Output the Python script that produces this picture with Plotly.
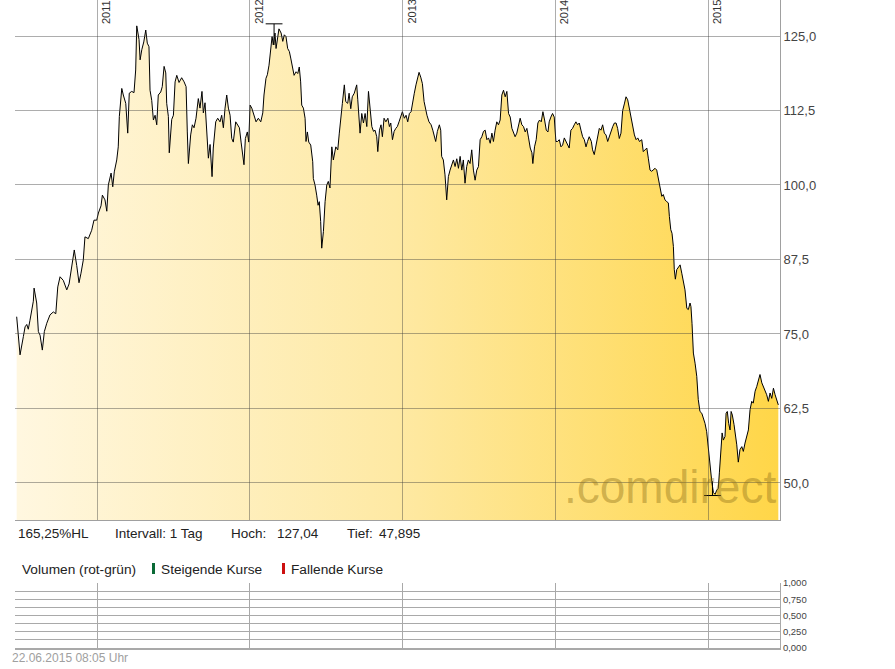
import numpy as np
import plotly.graph_objects as go

# ---- price data (decimal year, close) ----
t_2010 = [2010.474, 2010.485, 2010.496, 2010.518, 2010.529, 2010.540, 2010.550, 2010.561, 2010.572, 2010.583,
          2010.588, 2010.605, 2010.616, 2010.627, 2010.642, 2010.655, 2010.671, 2010.692, 2010.714, 2010.730,
          2010.743, 2010.758, 2010.779, 2010.802, 2010.817, 2010.834, 2010.851, 2010.867, 2010.882, 2010.895,
          2010.910, 2010.921, 2010.943, 2010.965, 2010.980, 2010.998]
p_2010 = [77.9, 75.0, 71.5, 74.6, 76.2, 76.6, 75.8, 77.3, 79.0, 80.5,
          82.7, 80.2, 75.4, 74.8, 72.3, 75.4, 76.8, 78.2, 78.7, 78.4,
          82.9, 84.6, 84.0, 82.4, 83.4, 86.5, 89.1, 86.5, 83.6, 85.2,
          87.4, 91.3, 91.0, 92.4, 94.1, 94.1]

t_2011 = [2011.009, 2011.026, 2011.035, 2011.052, 2011.064, 2011.074, 2011.092, 2011.103, 2011.113, 2011.129,
          2011.139, 2011.146, 2011.162, 2011.172, 2011.188, 2011.201, 2011.211, 2011.227, 2011.242, 2011.253,
          2011.260, 2011.275, 2011.282, 2011.293, 2011.306, 2011.319, 2011.329, 2011.340, 2011.347, 2011.358,
          2011.369, 2011.380, 2011.391, 2011.401, 2011.417, 2011.427, 2011.439, 2011.450, 2011.456, 2011.467,
          2011.473, 2011.489, 2011.500, 2011.511, 2011.522, 2011.537, 2011.554, 2011.570, 2011.583, 2011.591,
          2011.598, 2011.613, 2011.624, 2011.635, 2011.648, 2011.663, 2011.674, 2011.687, 2011.696, 2011.707,
          2011.718, 2011.729, 2011.740, 2011.753, 2011.761, 2011.777, 2011.790, 2011.805, 2011.816, 2011.827,
          2011.838, 2011.849, 2011.860, 2011.871, 2011.882, 2011.892, 2011.908, 2011.921, 2011.932, 2011.943,
          2011.954, 2011.962, 2011.971, 2011.984, 2011.993]
p_2011 = [95.3, 96.5, 98.3, 97.5, 95.6, 100.0, 102.0, 99.7, 102.2, 104.2,
          106.4, 111.5, 116.2, 115.1, 113.7, 108.7, 115.4, 115.7, 115.5, 119.3,
          126.7, 124.4, 121.0, 122.7, 124.0, 126.0, 123.8, 123.2, 115.9, 114.2,
          110.9, 111.7, 110.1, 115.1, 115.6, 116.5, 119.9, 118.8, 113.7, 111.5,
          105.4, 111.0, 111.7, 117.3, 118.4, 117.2, 118.0, 117.3, 116.5, 108.9,
          103.6, 108.4, 110.1, 109.6, 111.2, 114.5, 112.9, 115.7, 112.1, 113.8,
          109.6, 104.5, 106.8, 101.4, 106.2, 110.6, 111.2, 110.6, 111.7, 109.6,
          112.9, 115.1, 112.9, 111.7, 107.8, 107.2, 110.6, 110.1, 109.6, 107.2,
          104.5, 103.4, 107.8, 108.9, 107.2]

t_2012 = [2012.002, 2012.013, 2012.028, 2012.041, 2012.056, 2012.072, 2012.085, 2012.093, 2012.106, 2012.115,
          2012.126, 2012.137, 2012.146, 2012.154, 2012.165, 2012.172, 2012.180, 2012.191, 2012.205, 2012.216,
          2012.226, 2012.237, 2012.248, 2012.259, 2012.268, 2012.279, 2012.290, 2012.303, 2012.314, 2012.324,
          2012.333, 2012.340, 2012.351, 2012.362, 2012.368, 2012.377, 2012.386, 2012.399, 2012.412, 2012.416,
          2012.427, 2012.438, 2012.447, 2012.455, 2012.464, 2012.471, 2012.482, 2012.493, 2012.504, 2012.514,
          2012.525,
          2012.537, 2012.547, 2012.563, 2012.576, 2012.586, 2012.597, 2012.606, 2012.619, 2012.628, 2012.641,
          2012.650, 2012.661, 2012.671, 2012.684, 2012.700, 2012.707, 2012.715, 2012.722, 2012.733, 2012.744,
          2012.755, 2012.766, 2012.777, 2012.788, 2012.799, 2012.810, 2012.820, 2012.831, 2012.838, 2012.849,
          2012.859, 2012.868, 2012.879, 2012.891, 2012.904, 2012.914, 2012.923, 2012.934, 2012.945, 2012.956,
          2012.966, 2012.977, 2012.990, 2012.999]
p_2012 = [113.4, 112.9, 111.5, 110.6, 111.2, 110.6, 112.1, 115.1, 117.9, 118.5,
          120.1, 122.4, 124.9, 123.5, 125.5, 122.9, 124.6, 126.2, 125.5, 124.1,
          125.2, 124.9, 122.9, 122.4, 121.3, 120.1, 118.4, 119.0, 118.7, 119.8,
          117.3, 113.4, 112.9, 111.2, 107.3, 108.9, 107.2, 106.7, 103.9, 101.1,
          100.0, 98.3, 96.6, 97.2, 93.9, 89.4, 92.2, 97.2, 100.0, 100.6,
          99.5,
          106.4, 104.2, 106.4, 105.9, 108.7, 112.0, 113.7, 116.8, 114.0, 113.7,
          115.4, 112.8, 114.8, 115.4, 116.8, 114.3, 110.4, 108.7, 112.0, 110.4,
          112.0, 109.8, 115.7, 112.5, 109.8, 109.0, 109.2, 108.1, 105.6, 109.2,
          110.1, 108.1, 111.2, 110.6, 111.2, 109.8, 110.4, 107.6, 109.0, 109.5,
          109.8, 110.6, 111.5, 112.3]

t_2013 = [2013.012, 2013.023, 2013.034, 2013.045, 2013.056, 2013.064, 2013.077, 2013.088, 2013.097, 2013.108,
          2013.119, 2013.130, 2013.141, 2013.152, 2013.160, 2013.173, 2013.187, 2013.198, 2013.208, 2013.217,
          2013.228, 2013.241, 2013.250, 2013.256, 2013.267, 2013.278, 2013.289, 2013.300, 2013.311, 2013.322,
          2013.333, 2013.344, 2013.355, 2013.366, 2013.377, 2013.388, 2013.398, 2013.409, 2013.420, 2013.431,
          2013.442, 2013.453, 2013.464, 2013.475, 2013.486, 2013.497, 2013.508, 2013.519, 2013.530, 2013.541,
          2013.552, 2013.563, 2013.574, 2013.585, 2013.595, 2013.606, 2013.617, 2013.628, 2013.639, 2013.650,
          2013.661, 2013.672, 2013.683, 2013.694, 2013.705, 2013.716, 2013.726, 2013.737, 2013.748, 2013.759,
          2013.770, 2013.781, 2013.792, 2013.803, 2013.814, 2013.825, 2013.836, 2013.847, 2013.853, 2013.864,
          2013.875, 2013.886, 2013.897, 2013.908, 2013.919, 2013.930, 2013.941, 2013.952, 2013.960, 2013.971,
          2013.982, 2013.993]
p_2013 = [111.2, 111.7, 110.6, 112.0, 112.3, 113.7, 115.4, 116.8, 117.6, 118.9,
          118.1, 117.0, 114.0, 112.5, 111.7, 110.6, 110.1, 109.2, 108.1, 107.3,
          109.0, 110.1, 109.2, 104.8, 104.2, 101.7, 97.5, 101.4, 102.5, 103.6,
          104.2, 103.1, 104.4, 102.8, 104.8, 102.5, 104.2, 100.3, 103.1, 104.2,
          103.6, 105.9, 102.5, 100.8, 102.5, 103.1, 107.6, 108.1, 109.0, 109.2,
          107.6, 107.9, 107.0, 108.7, 107.3, 109.2, 110.6, 110.1, 110.9, 115.1,
          115.9, 114.8, 115.7, 112.0, 111.4, 109.5, 108.7, 108.1, 108.7, 109.8,
          111.2, 110.1, 109.8, 108.9, 109.5, 107.9, 106.2, 105.4, 103.6, 106.4,
          107.6, 110.4, 110.9, 110.6, 112.3, 110.9, 109.2, 108.9, 110.6, 111.4,
          112.0, 111.4]

t_2014 = [2014.004, 2014.015, 2014.026, 2014.037, 2014.048, 2014.059, 2014.069, 2014.080, 2014.091, 2014.102,
          2014.113, 2014.124, 2014.135, 2014.146, 2014.157, 2014.168, 2014.179, 2014.190, 2014.201, 2014.211,
          2014.222, 2014.236, 2014.244, 2014.255, 2014.266, 2014.277, 2014.288, 2014.299, 2014.310, 2014.321,
          2014.332, 2014.343, 2014.354, 2014.365, 2014.376, 2014.387, 2014.398, 2014.408, 2014.419, 2014.430,
          2014.441, 2014.452, 2014.463, 2014.474, 2014.485, 2014.496, 2014.507, 2014.518, 2014.529, 2014.540,
          2014.551,
          2014.566, 2014.576, 2014.588, 2014.599, 2014.609, 2014.620, 2014.631, 2014.642, 2014.653, 2014.664,
          2014.675, 2014.686, 2014.697, 2014.707, 2014.718, 2014.730, 2014.740, 2014.747, 2014.756, 2014.764,
          2014.773, 2014.779, 2014.786, 2014.795, 2014.806, 2014.817, 2014.828, 2014.838, 2014.849, 2014.861,
          2014.871, 2014.882, 2014.888, 2014.895, 2014.904, 2014.915, 2014.926, 2014.936, 2014.947, 2014.959,
          2014.969, 2014.980, 2014.991]
p_2014 = [107.3, 107.3, 107.6, 106.4, 106.7, 107.9, 107.3, 106.7, 106.2, 109.2,
          109.5, 110.1, 110.6, 110.1, 110.4, 109.2, 108.1, 107.6, 106.4, 107.3,
          108.1, 107.3, 105.9, 105.1, 106.7, 108.4, 109.5, 109.2, 110.1, 108.7,
          108.4, 107.3, 108.1, 109.2, 109.8, 110.4, 110.4, 109.5, 107.8, 108.7,
          112.5, 113.6, 114.8, 114.3, 112.8, 111.4, 109.5, 108.4, 107.6, 107.9,
          107.3,
          107.6, 105.6, 105.9, 106.2, 104.5, 102.5, 102.3, 102.5, 102.8, 102.5,
          101.1, 99.2, 98.1, 98.4, 97.5, 97.2, 97.0, 94.7, 92.5, 91.9,
          89.7, 85.8, 84.2, 85.8, 86.3, 86.6, 85.2, 83.5, 82.4, 79.3,
          79.1, 80.2, 79.6, 76.8, 71.8, 70.1, 67.9, 64.0, 62.0, 61.7,
          60.9, 60.0, 58.6]

t_2015 = [2015.002, 2015.013, 2015.024, 2015.035, 2015.046, 2015.057, 2015.067, 2015.074, 2015.083, 2015.092,
          2015.100, 2015.111, 2015.118, 2015.126, 2015.135, 2015.144, 2015.151, 2015.159, 2015.170, 2015.179,
          2015.188, 2015.198, 2015.209, 2015.221, 2015.231, 2015.242, 2015.253, 2015.264, 2015.275, 2015.286,
          2015.296, 2015.308, 2015.319, 2015.329, 2015.340, 2015.352, 2015.362, 2015.373, 2015.384, 2015.395,
          2015.406, 2015.417, 2015.428, 2015.439, 2015.450, 2015.460]
p_2015 = [55.6, 52.2, 50.3, 48.4, 48.1, 48.8, 49.1, 51.7, 55.6, 58.4,
          57.2, 57.8, 61.7, 62.0, 60.0, 58.9, 62.0, 61.4, 59.8, 58.4,
          56.4, 53.5, 55.6, 56.1, 55.3, 56.7, 57.8, 58.9, 62.3, 63.7,
          63.4, 65.4, 66.2, 67.3, 68.2, 66.8, 66.2, 65.6, 64.8, 63.7,
          65.1, 64.2, 65.9, 64.8, 63.7, 63.1]

high_value, high_time = 127.04, 2012.159
low_value, low_time = 47.895, 2015.029
interval_text = "1 Tag"
timestamp_text = "22.06.2015 08:05 Uhr"

year_ticks = [2011, 2012, 2013, 2014, 2015]
price_ticks = [50.0, 62.5, 75.0, 87.5, 100.0, 112.5, 125.0]
volume_ticks = [0.0, 0.25, 0.5, 0.75, 1.0]

x_range = [2010.463, 2015.471]
y_range = [43.79, 131.04]

t = t_2010 + t_2011 + t_2012 + t_2013 + t_2014 + t_2015
p = p_2010 + p_2011 + p_2012 + p_2013 + p_2014 + p_2015
for a, b in [(t_2010, p_2010), (t_2011, p_2011), (t_2012, p_2012), (t_2013, p_2013), (t_2014, p_2014), (t_2015, p_2015)]:
    assert len(a) == len(b), (len(a), len(b))

W, H = 895, 669
FONT = "Liberation Sans, Arial, sans-serif"


def px(x):
    return x / W


def py(y):
    return 1 - y / H


x_dom = [px(15), px(780)]
price_dom = [py(520), 1.0]
vol_dom = [py(648), py(583)]

fig = go.Figure()

fig.add_trace(go.Scatter(
    x=t, y=p, mode="lines", line=dict(color="#000000", width=1),
    fill="tozeroy",
    fillgradient=dict(type="horizontal",
                      colorscale=[[0, "rgb(255,247,224)"], [0.5, "rgb(254,233,163)"], [1, "rgb(255,214,72)"]]),
    hoverinfo="skip", showlegend=False))

# high / low markers
ta = np.array(t)
pa = np.array(p)
h_close = pa[np.argmin(np.abs(ta - high_time))]
l_close = pa[np.argmin(np.abs(ta - low_time))]
fig.add_trace(go.Scatter(
    x=[high_time, high_time, None, low_time, low_time],
    y=[high_value, h_close, None, low_value, l_close],
    mode="lines", line=dict(color="#000000", width=1), hoverinfo="skip", showlegend=False))
fig.add_trace(go.Scatter(
    x=[high_time, low_time], y=[high_value, low_value], mode="markers",
    marker=dict(symbol="line-ew", size=12, line=dict(color="#000000", width=1)),
    hoverinfo="skip", showlegend=False))

# volume panel (no data) and grid overlay subplot
fig.add_trace(go.Scatter(x=[], y=[], xaxis="x2", yaxis="y2", showlegend=False))
fig.add_trace(go.Scatter(x=[], y=[], xaxis="x3", yaxis="y3", showlegend=False))

grid_over = "rgba(60,60,60,0.42)"
grid_vol = "#a9a9a9"
axis_line = "#a0a0a0"

fig.update_layout(
    width=W, height=H,
    margin=dict(l=0, r=0, t=0, b=0),
    paper_bgcolor="white", plot_bgcolor="rgba(0,0,0,0)",
    separators=",.",
    font=dict(family=FONT, color="#333333"),
    showlegend=False,
    hovermode=False,
    xaxis=dict(domain=x_dom, range=x_range, anchor="y", showgrid=False, zeroline=False,
               showticklabels=False, ticks="", showline=True, linecolor=axis_line, linewidth=1,
               automargin=False, fixedrange=True),
    yaxis=dict(domain=price_dom, range=y_range, anchor="x", side="right", tickvals=price_ticks,
               tickformat=".1f", showgrid=False, zeroline=False, ticks="", showline=True,
               linecolor=axis_line, linewidth=1, tickfont=dict(size=13, color="#444444"),
               automargin=False, fixedrange=True),
    xaxis3=dict(domain=x_dom, range=x_range, anchor="y3", tickvals=year_ticks, showgrid=True,
                gridcolor=grid_over, gridwidth=1, zeroline=False, showticklabels=False, ticks="",
                showline=False, automargin=False),
    yaxis3=dict(domain=price_dom, range=y_range, anchor="x3", tickvals=price_ticks, showgrid=True,
                gridcolor=grid_over, gridwidth=1, zeroline=False, showticklabels=False, ticks="",
                showline=False, automargin=False),
    xaxis2=dict(domain=x_dom, range=x_range, anchor="y2", tickvals=year_ticks, showgrid=True,
                gridcolor=grid_vol, zeroline=False, showticklabels=False, ticks="",
                showline=True, linecolor=grid_vol, linewidth=2, automargin=False),
    yaxis2=dict(domain=vol_dom, range=[0, 1], anchor="x2", side="right", tickvals=volume_ticks,
                tickformat=".3f", showgrid=True, gridcolor=grid_vol, zeroline=False, ticks="",
                minor=dict(dtick=0.125, showgrid=True, gridcolor=grid_vol),
                showline=True, linecolor=grid_vol, linewidth=1,
                tickfont=dict(size=9.5, color="#444444"), automargin=False),
)

ann = []
for yr in year_ticks:
    ann.append(dict(x=yr, xref="x", y=1, yref="paper", text=str(yr), textangle=-90,
                    xanchor="left", yanchor="top", xshift=1, yshift=2, showarrow=False,
                    font=dict(size=11, color="#333333")))

hl_pct = (high_value - low_value) / low_value * 100
fmt = lambda v: str(v).replace(".", ",")
info = [
    (16, f"{hl_pct:.2f}".replace(".", ",") + "%HL"),
    (113, "Intervall: " + interval_text),
    (229, "Hoch:"),
    (275, fmt(high_value)),
    (345, "Tief:"),
    (377, fmt(low_value)),
]
for x0, txt in info:
    ann.append(dict(x=px(x0), xref="paper", y=py(533), yref="paper", text=txt, xanchor="left",
                    yanchor="middle", showarrow=False, font=dict(size=13.5, color="#222222")))

for x0, txt in [(20, "Volumen (rot-grün)"), (159, "Steigende Kurse"), (289, "Fallende Kurse")]:
    ann.append(dict(x=px(x0), xref="paper", y=py(569), yref="paper", text=txt, xanchor="left",
                    yanchor="middle", showarrow=False, font=dict(size=13.7, color="#222222")))

ann.append(dict(x=px(10), xref="paper", y=py(658), yref="paper", text=timestamp_text, xanchor="left",
                yanchor="middle", showarrow=False, font=dict(size=12, color="#a0a0a0")))

ann.append(dict(x=px(562), xref="paper", y=py(487), yref="paper", text=".comdirect", xanchor="left",
                yanchor="middle", showarrow=False, font=dict(size=46, color="rgba(150,120,30,0.45)")))

fig.update_layout(annotations=ann)

shapes = [
    dict(type="rect", xref="paper", yref="paper", x0=px(152), x1=px(155), y0=py(574), y1=py(563),
         fillcolor="#0a6a36", line=dict(width=0)),
    dict(type="rect", xref="paper", yref="paper", x0=px(282), x1=px(285), y0=py(574), y1=py(563),
         fillcolor="#cc1010", line=dict(width=0)),
]
fig.update_layout(shapes=shapes)

fig.write_html("out.html",
               config={"displayModeBar": False, "staticPlot": True},
               post_script="document.body.style.margin='0';document.body.style.padding='0';document.body.style.overflow='hidden';")
